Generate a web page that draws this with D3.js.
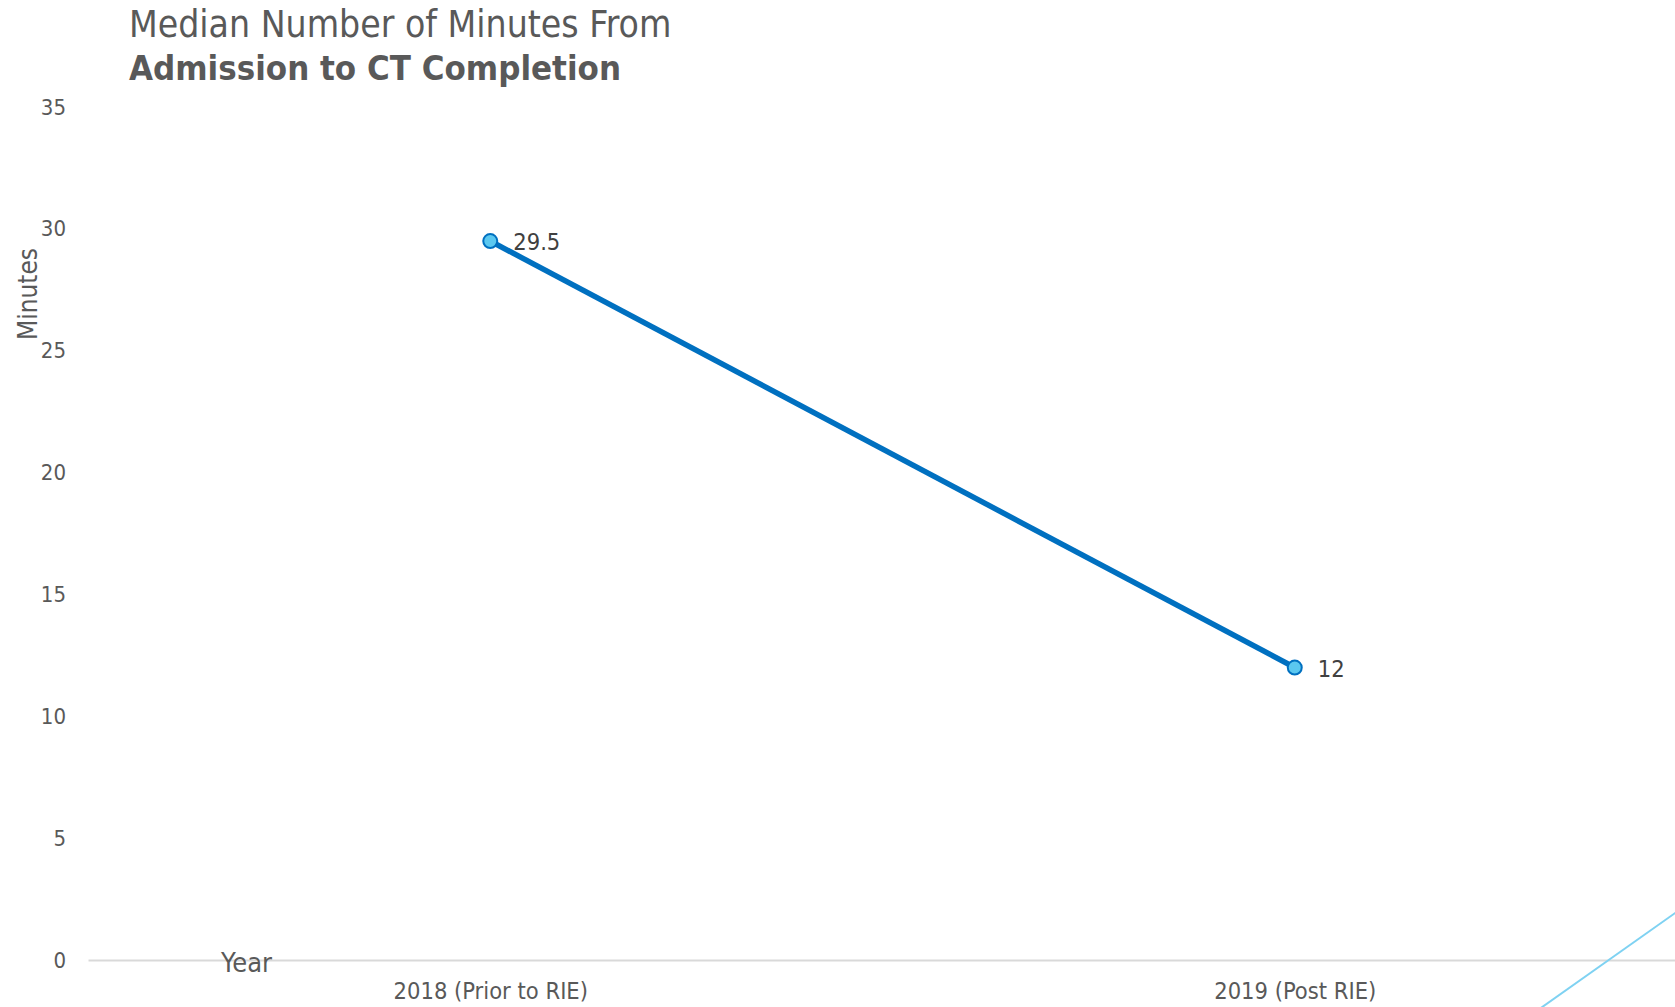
<!DOCTYPE html>
<html>
<head>
<meta charset="utf-8">
<script src="https://cdn.jsdelivr.net/npm/d3@7"></script>
<style>
  html, body { margin: 0; padding: 0; background: #fff; }
  svg { display: block; font-family: "DejaVu Sans Condensed", "DejaVu Sans", sans-serif; }
</style>
</head>
<body>
<svg id="chart" width="1675" height="1007"></svg>
<script>
// Median minutes from admission to CT completion, before and after RIE
const categories = ["2018 (Prior to RIE)", "2019 (Post RIE)"];
const minutes = [29.5, 12];
const yTicks = [0, 5, 10, 15, 20, 25, 30, 35];

const svg = d3.select("#chart");
const plotLeft = 88, plotRight = 1697, plotTop = 107, plotBottom = 960;
const textColor = "#595959";
const fontFam = "DejaVu Sans Condensed, DejaVu Sans, sans-serif";

const x = d3.scalePoint().domain(categories).range([plotLeft, plotRight]).padding(0.5);
const y = d3.scaleLinear().domain([0, 35]).range([plotBottom, plotTop]);

// Title
const title = svg.append("text").attr("fill", textColor);
title.append("tspan").attr("x", 129).attr("y", 37).attr("font-size", 37).text("Median Number of Minutes From");
title.append("tspan").attr("x", 129).attr("y", 80).attr("font-size", 34.5).attr("font-weight", "bold").text("Admission to CT Completion");

// Y axis: labels only
const yAxis = d3.axisLeft(y).tickValues(yTicks).tickSize(0).tickPadding(0);
const yg = svg.append("g").attr("transform", "translate(66,0)").call(yAxis);
yg.select(".domain").remove();
yg.selectAll("text").attr("fill", textColor).attr("font-size", 22).attr("font-family", fontFam);

// X axis baseline and category labels
const xAxis = d3.axisBottom(x).tickSize(0).tickPadding(22);
const xg = svg.append("g").attr("transform", `translate(0,${plotBottom})`).call(xAxis);
xg.select(".domain").attr("stroke", "#d9d9d9").attr("stroke-width", 2);
xg.selectAll("text").attr("fill", textColor).attr("font-size", 23.5).attr("font-family", fontFam);

// Axis titles
svg.append("text")
  .attr("transform", "translate(37,294) rotate(-90)")
  .attr("text-anchor", "middle").attr("fill", textColor).attr("font-size", 26)
  .text("Minutes");
svg.append("text").attr("x", 221).attr("y", 972)
  .attr("fill", textColor).attr("font-size", 27).text("Year");

// Series line
const pts = categories.map((c, i) => ({ c, v: minutes[i] }));
svg.append("path").datum(pts)
  .attr("fill", "none").attr("stroke", "#0070c0").attr("stroke-width", 5.5)
  .attr("d", d3.line().x(d => x(d.c)).y(d => y(d.v)));

svg.selectAll("circle.pt").data(pts).join("circle").attr("class", "pt")
  .attr("cx", d => x(d.c)).attr("cy", d => y(d.v)).attr("r", 7)
  .attr("fill", "#5bc8f0").attr("stroke", "#0070c0").attr("stroke-width", 2);

svg.selectAll("text.lbl").data(pts).join("text").attr("class", "lbl")
  .attr("x", d => x(d.c) + 23).attr("y", d => y(d.v) + 9)
  .attr("fill", "#404040").attr("font-size", 23.5)
  .text(d => d.v);

// Decorative accent line in the lower-right corner
svg.append("line").attr("x1", 1538).attr("y1", 1010).attr("x2", 1678).attr("y2", 911)
  .attr("stroke", "#7fd2f2").attr("stroke-width", 2);
</script>
</body>
</html>
